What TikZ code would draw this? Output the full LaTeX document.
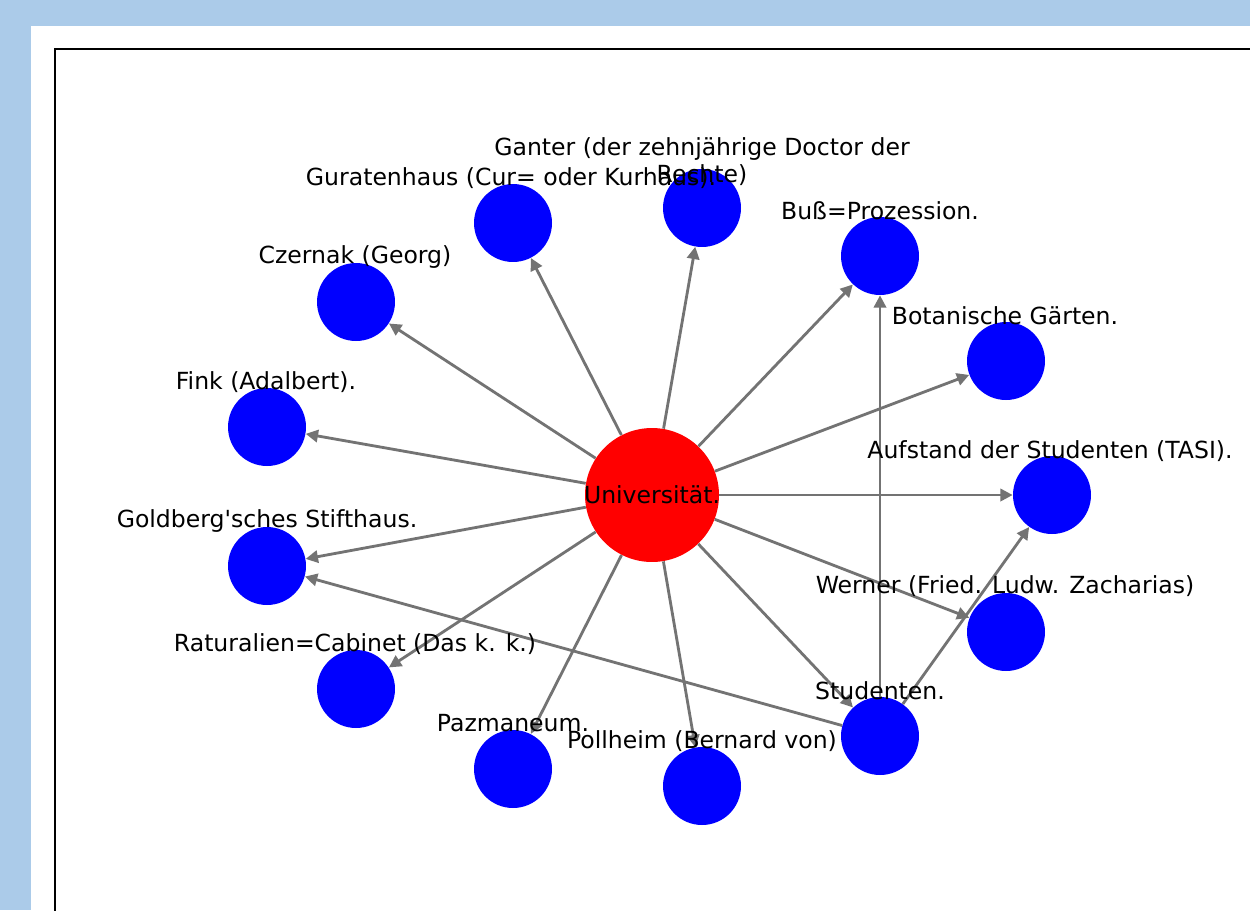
\documentclass[tikz,border=0pt]{standalone}
\usepackage{fontspec}
\setmainfont{DejaVu Sans}
\usepackage{tikz}
\usetikzlibrary{arrows.meta}
\definecolor{pageblue}{HTML}{ABCBE9}
\tikzset{bnode/.style = {fill = blue, circle, inner sep = 0, minimum size = 1.56cm}}
\tikzset{rnode/.style = {fill = red, circle, inner sep = 0, minimum size = 2.68cm}}
\tikzset{lbl/.style = {font = \fontsize{13.4}{15.3}\selectfont, align = center, inner sep = 0}}
\tikzset{edge/.style = {draw = black!55, line width = 1.6pt,
                        -{Triangle[length = 7pt, width = 7pt]}}}

\begin{document}
\begin{tikzpicture}[x = 0.02cm, y = -0.02cm]
      \clip (0, 0) rectangle (1250, 910);
      \fill [pageblue] (0, 0) rectangle (1250, 910);
      \fill [white] (31, 26) rectangle (1260, 920);
      \draw [line width = 1.2pt] (55, 49) rectangle (1270, 930);

      \node [rnode] (uni) at (652, 495) {};
      \node [bnode] (ganter) at (702, 208) {};
      \node [bnode] (curhaus) at (513, 223) {};
      \node [bnode] (buss) at (880, 256) {};
      \node [bnode] (czernak) at (356, 302) {};
      \node [bnode] (garten) at (1006, 361) {};
      \node [bnode] (fink) at (267, 427) {};
      \node [bnode] (aufstand) at (1052, 495) {};
      \node [bnode] (goldberg) at (267, 566) {};
      \node [bnode] (werner) at (1006, 632) {};
      \node [bnode] (cabinet) at (356, 689) {};
      \node [bnode] (studenten) at (880, 736) {};
      \node [bnode] (pazmaneum) at (513, 769) {};
      \node [bnode] (pollheim) at (702, 786) {};

      \foreach \t in {ganter, curhaus, buss, czernak, garten, fink, aufstand,
                      goldberg, werner, cabinet, studenten, pazmaneum, pollheim}
        \draw [edge] (uni) -- (\t);
      \draw [edge] (studenten) -- (buss);
      \draw [edge] (studenten) -- (aufstand);
      \draw [edge] (studenten) -- (goldberg);

      % labels sit above the circles
      \node [lbl] (uni-t) at (652, 495) {Universität.};
      \node [lbl] (ganter-t) at (702, 162) {Ganter (der zehnjährige Doctor der\\Rechte)};
      \node [lbl] (curhaus-t) at (511, 178) {Guratenhaus (Cur= oder Kurhaus).};
      \node [lbl] (buss-t) at (880, 211) {Buß=Prozession.};
      \node [lbl] (czernak-t) at (355, 257) {Czernak (Georg)};
      \node [lbl] (garten-t) at (1005, 316) {Botanische Gärten.};
      \node [lbl] (fink-t) at (266, 382) {Fink (Adalbert).};
      \node [lbl] (aufstand-t) at (1050, 451) {Aufstand der Studenten (TASI).};
      \node [lbl] (goldberg-t) at (267, 521) {Goldberg\textquotesingle sches Stifthaus.};
      \node [lbl] (werner-t) at (1005, 586) {Werner (Fried. Ludw. Zacharias)};
      \node [lbl] (cabinet-t) at (355, 644) {Raturalien=Cabinet (Das k. k.)};
      \node [lbl] (studenten-t) at (880, 691) {Studenten.};
      \node [lbl] (pazmaneum-t) at (513, 723) {Pazmaneum.};
      \node [lbl] (pollheim-t) at (702, 741) {Pollheim (Bernard von)};
\end{tikzpicture}
\end{document}
